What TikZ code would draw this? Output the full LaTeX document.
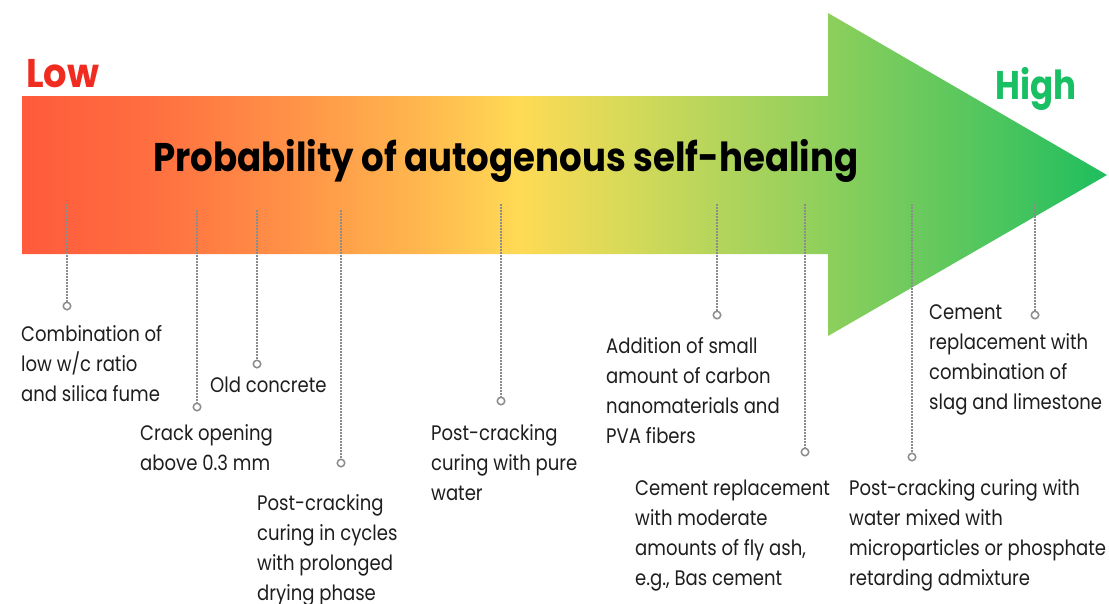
\documentclass[tikz,border=0pt]{standalone}
\usepackage{fontspec}
\usepackage{graphicx}
\setmainfont{Poppins}

\definecolor{lowred}{HTML}{F02B1F}
\definecolor{highgreen}{HTML}{19BF63}
\definecolor{pinline}{HTML}{8C8C8C}
\definecolor{labeltext}{HTML}{1E1E1E}
% colour stops along the arrow, red through yellow to green
\definecolor{g0}{HTML}{FF5A3C}
\definecolor{g1}{HTML}{FF6E40}
\definecolor{g2}{HTML}{FF9548}
\definecolor{g3}{HTML}{FFB84E}
\definecolor{g4}{HTML}{FFDA55}
\definecolor{g5}{HTML}{D8DA58}
\definecolor{g6}{HTML}{B0D45C}
\definecolor{g7}{HTML}{8DCF5C}
\definecolor{g8}{HTML}{4CC55E}
\definecolor{g9}{HTML}{1EBE5E}

\pgfdeclarehorizontalshading{healing}{100bp}{%
  color(0bp)=(g0); color(25bp)=(g0); color(30.8bp)=(g1); color(37.9bp)=(g2);
  color(43.5bp)=(g3); color(47.9bp)=(g4); color(52.6bp)=(g5); color(57.6bp)=(g6);
  color(62.2bp)=(g7); color(70bp)=(g8); color(75bp)=(g9); color(100bp)=(g9)}

% condensed multi-line label text
\newcommand\labelsx{0.86}
\newcommand\labellines[1]{\scalebox{\labelsx}[1]{\begin{tabular}[t]{@{}l@{}}#1\end{tabular}}}
\newcommand\fitwidth[2]{\resizebox{#1}{\height}{#2}}

\tikzset{
  pin/.style={draw=pinline, line width=1.5pt, dash pattern=on 1.5pt off 1.5pt},
  pinhead/.style={circle, draw=pinline, line width=1.5pt, fill=white,
                  minimum size=7.5pt, inner sep=0pt},
  caption/.style={anchor=base west, inner sep=0pt, text=labeltext,
                  font=\fontsize{21}{30}\selectfont},
  endword/.style={anchor=base west, inner sep=0pt, font=\fontsize{40}{40}\selectfont\bfseries},
}

\begin{document}
\begin{tikzpicture}[x=1pt, y=-1pt]
\useasboundingbox (0,0) rectangle (1109,603);

% the arrow
\path[shading=healing]
  (22,96) -- (828,96) -- (828,13) -- (1107,175) -- (828,336)
  -- (828,254) -- (22,254) -- cycle;

% end labels and title
\node[endword, text=lowred] (low) at (26,87) {\fitwidth{73pt}{Low}};
\node[endword, text=highgreen] (high) at (995,99) {\fitwidth{81pt}{High}};
\node[endword, text=black] (title) at (153,171)
  {\fitwidth{705pt}{Probability of autogenous self-healing}};

% pins: top end inside the arrow, ring at the lower end
\coordinate (p1) at (67,204);   \node[pinhead] (d1) at (67,306) {};
\coordinate (p2) at (197,210);  \node[pinhead] (d2) at (197,407) {};
\coordinate (p3) at (257,210);  \node[pinhead] (d3) at (257,364) {};
\coordinate (p4) at (341,210);  \node[pinhead] (d4) at (341,463) {};
\coordinate (p5) at (501,204);  \node[pinhead] (d5) at (501,401) {};
\coordinate (p6) at (717,204);  \node[pinhead] (d6) at (717,315) {};
\coordinate (p7) at (805,204);  \node[pinhead] (d7) at (805,452) {};
\coordinate (p8) at (912,204);  \node[pinhead] (d8) at (912,457) {};
\coordinate (p9) at (1035,204); \node[pinhead] (d9) at (1035,315) {};
\foreach \i in {1,...,9} \draw[pin] (p\i) -- (d\i.north);

% captions
\node[caption] (t1) at (21,341) {\labellines{Combination of\\low w/c ratio\\and silica fume}};
\node[caption] (t2) at (140,440) {\labellines{Crack opening\\above 0.3 mm}};
\node[caption] (t3) at (210,392) {\labellines{Old concrete}};
\node[caption] (t4) at (257,510) {\labellines{Post-cracking\\curing in cycles\\with prolonged\\drying phase}};
\node[caption] (t5) at (431,440) {\labellines{Post-cracking\\curing with pure\\water}};
\node[caption] (t6) at (606,353) {\labellines{Addition of small\\amount of carbon\\nanomaterials and\\PVA fibers}};
\node[caption] (t7) at (635,495) {\labellines{Cement replacement\\with moderate\\amounts of fly ash,\\e.g., Bas cement}};
\node[caption] (t8) at (849,495) {\labellines{Post-cracking curing with\\water mixed with\\microparticles or phosphate\\retarding admixture}};
\node[caption] (t9) at (929,319) {\labellines{Cement\\replacement with\\combination of\\slag and limestone}};
\end{tikzpicture}
\end{document}
